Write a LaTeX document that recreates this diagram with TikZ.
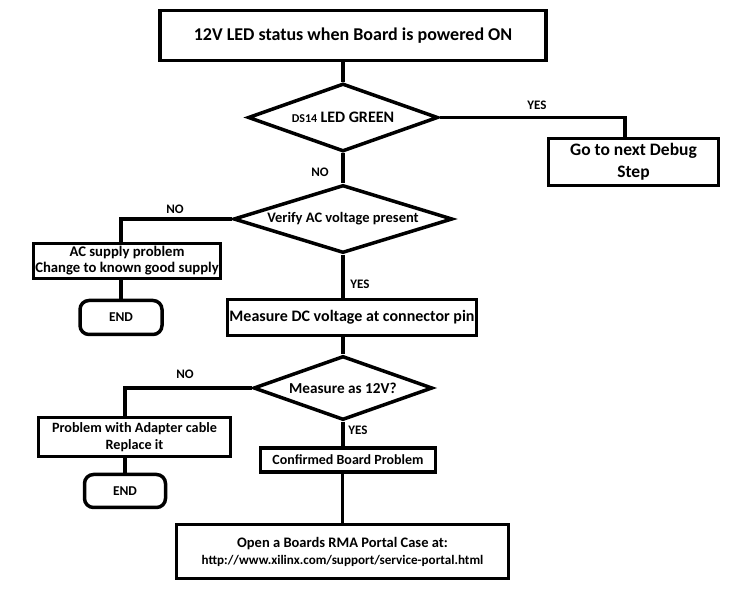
\documentclass[tikz,border=0pt]{standalone}
\usepackage{fontspec}
\setmainfont{Carlito}
\usetikzlibrary{shapes.geometric}

\begin{document}
\begin{tikzpicture}[x=1pt, y=-1pt, line width=3.5pt,
    procbox/.style={draw, rectangle, align=center, inner sep=0pt, font=\bfseries\fontsize{14.5}{17}\selectfont},
    decision/.style={draw, diamond, align=center, inner sep=0pt, font=\bfseries\fontsize{14.5}{17}\selectfont},
    endbox/.style={draw, rectangle, rounded corners=9pt, inner sep=0pt, font=\bfseries\fontsize{13.5}{16}\selectfont},
    answer/.style={font=\bfseries\fontsize{13}{15}\selectfont}]
\useasboundingbox (0,0) rectangle (737,593);

% Start
\node[procbox, minimum width=386pt, minimum height=50pt, font=\bfseries\fontsize{18}{21}\selectfont] (title) at (353,35.5) {12V LED status when Board is powered ON};

% First check
\node[decision, aspect=2.8, minimum width=190pt, minimum height=68pt] (d1) at (343,117.5) {{\fontsize{12}{14}\selectfont DS14} {\fontsize{16}{18}\selectfont LED GREEN}};
\node[procbox, minimum width=170pt, minimum height=47pt, font=\bfseries\fontsize{17.5}{22}\selectfont] (next) at (633.5,162) {Go to next Debug\\Step};

% AC supply
\node[decision, aspect=3.2, minimum width=219pt, minimum height=68pt] (d2) at (343,219) {Verify AC voltage present};
\node[procbox, minimum width=187pt, minimum height=35pt, font=\bfseries\fontsize{14.7}{16}\selectfont] (ac) at (127,261) {AC supply problem\\Change to known good supply};
\node[endbox, minimum width=82pt, minimum height=34pt] (end1) at (121,317.5) {END};

% DC voltage
\node[procbox, minimum width=249pt, minimum height=36pt, font=\bfseries\fontsize{16}{18}\selectfont] (dc) at (352,317.5) {Measure DC voltage at connector pin};
\node[decision, aspect=2.8, minimum width=179pt, minimum height=64pt, font=\bfseries\fontsize{15.2}{17}\selectfont] (d3) at (343,388) {Measure as 12V?};
\node[procbox, minimum width=192pt, minimum height=39pt, font=\bfseries\fontsize{14.2}{17}\selectfont] (adapt) at (134.5,437) {Problem with Adapter cable\\Replace it};
\node[endbox, minimum width=81pt, minimum height=33pt] (end2) at (125,491) {END};

% Board problem
\node[procbox, minimum width=175pt, minimum height=24pt, font=\bfseries\fontsize{14}{17}\selectfont] (conf) at (348,460) {Confirmed Board Problem};
\node[procbox, minimum width=332pt, minimum height=54pt] (portal) at (342.5,551.5) {Open a Boards RMA Portal Case at:\\{\fontsize{13.1}{17}\selectfont http://www.xilinx.com/support/service-portal.html}};

% Connectors
\draw (title.south -| d1.north) -- (d1.north);
\draw (d1.east) -| ([xshift=-8.5pt]next.north);
\draw (d1.south) -- (d2.north);
\draw (d2.west) -| (end1.north |- ac.north);
\draw (ac.south -| end1.north) -- (end1.north);
\draw (d2.south) -- (d2.south |- dc.north);
\draw (dc.south -| d3.north) -- (d3.north);
\draw (d3.west) -| (end2.north |- adapt.north);
\draw (adapt.south -| end2.north) -- (end2.north);
\draw (d3.south) -- (d3.south |- conf.north);
\draw (conf.south -| portal.north) -- (portal.north);

% Answers
\node[answer] (yes1) at (537,105) {YES};
\node[answer] (no1) at (320,172) {NO};
\node[answer] (no2) at (175,209) {NO};
\node[answer] (yes2) at (360,284) {YES};
\node[answer] (no3) at (185,374) {NO};
\node[answer] (yes3) at (358,430) {YES};
\end{tikzpicture}
\end{document}
